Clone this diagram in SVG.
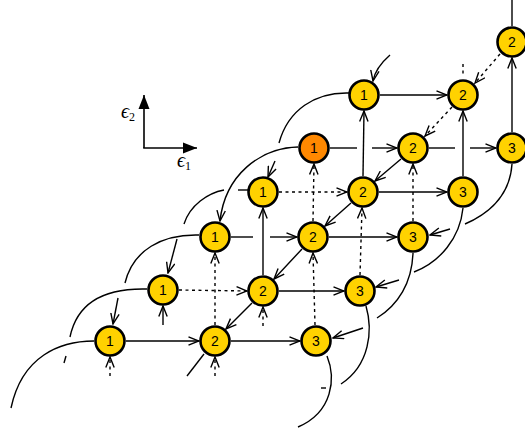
<svg xmlns="http://www.w3.org/2000/svg" width="525" height="428" viewBox="0 0 525 428">
<style>
.edge path,.edge line{fill:none;stroke:#000;stroke-width:1.4}
.edge .d{stroke-dasharray:3 3.5}
.node circle{fill:#FFD200;stroke:#000;stroke-width:2.6}
.node.org circle{fill:#FF8800}
.node text{font-family:"Liberation Sans",Arial,sans-serif;font-size:14px;text-anchor:middle;fill:#000}
.ax{font-family:"Liberation Serif","DejaVu Serif",serif;font-style:italic;font-size:20px;fill:#000}
.ax tspan{font-style:normal;font-size:12px}
</style>
<defs>
<marker id="ah" viewBox="0 0 12 10" refX="11" refY="5" markerWidth="12" markerHeight="10" orient="auto" markerUnits="userSpaceOnUse"><path d="M0.5,0.8 L11,5 L0.5,9.2" fill="none" stroke="#000" stroke-width="1.4"/></marker>
<marker id="tri" viewBox="0 0 14 12" refX="14" refY="6" markerWidth="14" markerHeight="12" orient="auto" markerUnits="userSpaceOnUse"><path d="M0,0.5 L14,6 L0,11.5 Z" fill="#000"/></marker>
</defs>

<g id="axes">
<path d="M144,148 L144,95" fill="none" stroke="#000" stroke-width="1.6" marker-end="url(#tri)"/>
<path d="M143.2,148 L197,148" fill="none" stroke="#000" stroke-width="1.6" marker-end="url(#tri)"/>
<text class="ax" x="121" y="118">ϵ<tspan dy="3">2</tspan></text>
<text class="ax" x="177" y="167">ϵ<tspan dy="3">1</tspan></text>
</g>

<g id="connectors" class="edge">
<!-- horizontal -->
<line x1="126" y1="341" x2="199" y2="341" marker-end="url(#ah)"/>
<line x1="231" y1="341" x2="300" y2="341" marker-end="url(#ah)"/>
<line class="d" x1="179" y1="290" x2="247" y2="291" marker-end="url(#ah)"/>
<line x1="279" y1="291" x2="344" y2="291" marker-end="url(#ah)"/>
<line x1="231" y1="237" x2="253" y2="237"/>
<line x1="270" y1="237" x2="297" y2="237" marker-end="url(#ah)"/>
<line x1="329" y1="237" x2="397" y2="237" marker-end="url(#ah)"/>
<line class="d" x1="279" y1="192" x2="347" y2="192" marker-end="url(#ah)"/>
<line x1="379" y1="192" x2="447" y2="192" marker-end="url(#ah)"/>
<line x1="330" y1="148" x2="357" y2="148"/>
<line x1="372" y1="148" x2="397" y2="148" marker-end="url(#ah)"/>
<line x1="429" y1="148" x2="455" y2="148"/>
<line x1="470" y1="148" x2="496" y2="148" marker-end="url(#ah)"/>
<line x1="380" y1="95" x2="447" y2="95" marker-end="url(#ah)"/>
<!-- vertical -->
<line class="d" x1="110" y1="376" x2="110" y2="357" marker-end="url(#ah)"/>
<line class="d" x1="215" y1="376" x2="215" y2="357" marker-end="url(#ah)"/>
<line x1="163" y1="325" x2="163" y2="306" marker-end="url(#ah)"/>
<line class="d" x1="263" y1="326" x2="263" y2="307" marker-end="url(#ah)"/>
<line class="d" x1="215" y1="325" x2="215" y2="253" marker-end="url(#ah)"/>
<line class="d" x1="315" y1="325" x2="313" y2="253" marker-end="url(#ah)"/>
<line x1="263" y1="275" x2="263" y2="208" marker-end="url(#ah)"/>
<line class="d" x1="360" y1="275" x2="362" y2="208" marker-end="url(#ah)"/>
<line class="d" x1="313" y1="221" x2="314" y2="164" marker-end="url(#ah)"/>
<line class="d" x1="413" y1="221" x2="413" y2="164" marker-end="url(#ah)"/>
<line x1="363" y1="176" x2="364" y2="111" marker-end="url(#ah)"/>
<line x1="463" y1="176" x2="463" y2="111" marker-end="url(#ah)"/>
<line x1="512" y1="132" x2="512" y2="58" marker-end="url(#ah)"/>
<line x1="512" y1="26" x2="512" y2="0"/>
<line class="d" x1="463" y1="64" x2="463" y2="77"/>
<!-- diagonal -->
<line class="d" x1="500" y1="54" x2="475" y2="83" marker-end="url(#ah)"/>
<line class="d" x1="452" y1="107" x2="425" y2="136" marker-end="url(#ah)"/>
<line x1="401" y1="159" x2="375" y2="181" marker-end="url(#ah)"/>
<line x1="351" y1="203" x2="325" y2="226" marker-end="url(#ah)"/>
<line x1="302" y1="249" x2="274" y2="279" marker-end="url(#ah)"/>
<line x1="252" y1="303" x2="226" y2="329" marker-end="url(#ah)"/>
<line x1="204" y1="354" x2="187" y2="376"/>
<!-- left curves -->
<path d="M94,341 C60,341 22,356 11,408"/>
<path d="M147,289 C110,288 78,298 70,337"/>
<path d="M66,356 L64,363"/>
<path d="M199,235 C162,234 133,250 125,283"/>
<path d="M118,298 L113,324" marker-end="url(#ah)"/>
<path d="M248,190 L238,190"/>
<path d="M224,190 C208,193 190,205 184,224"/>
<path d="M177,239 L168,273" marker-end="url(#ah)"/>
<path d="M298,147 C260,148 225,175 220,221" marker-end="url(#ah)"/>
<path d="M349,93 C315,92 288,110 279,143"/>
<path d="M275,161 L268,177" marker-end="url(#ah)"/>
<path d="M390,55 C382,62 375,70 373,81" marker-end="url(#ah)"/>
<!-- right curves -->
<path d="M512,164 C510,195 490,213 465,224"/>
<path d="M450,229 L430,235" marker-end="url(#ah)"/>
<path d="M463,208 C460,238 440,262 414,272"/>
<path d="M399,280 L376,287" marker-end="url(#ah)"/>
<path d="M413,253 C412,283 398,305 377,318"/>
<path d="M363,328 L333,338" marker-end="url(#ah)"/>
<path d="M366,306 C373,330 370,365 341,384"/>
<path d="M321,388 L326,388"/>
<path d="M327,356 C336,378 333,412 298,427"/>
</g>

<g id="nA1" class="node"><circle cx="110" cy="341" r="14.5"/><text x="110" y="346">1</text></g>
<g id="nA2" class="node"><circle cx="215" cy="341" r="14.5"/><text x="215" y="346">2</text></g>
<g id="nA3" class="node"><circle cx="316" cy="341" r="14.5"/><text x="316" y="346">3</text></g>
<g id="nB1" class="node"><circle cx="163" cy="290" r="14.5"/><text x="163" y="295">1</text></g>
<g id="nB2" class="node"><circle cx="263" cy="291" r="14.5"/><text x="263" y="296">2</text></g>
<g id="nB3" class="node"><circle cx="360" cy="291" r="14.5"/><text x="360" y="296">3</text></g>
<g id="nC1" class="node"><circle cx="215" cy="237" r="14.5"/><text x="215" y="242">1</text></g>
<g id="nC2" class="node"><circle cx="313" cy="237" r="14.5"/><text x="313" y="242">2</text></g>
<g id="nC3" class="node"><circle cx="413" cy="237" r="14.5"/><text x="413" y="242">3</text></g>
<g id="nD1" class="node"><circle cx="263" cy="192" r="14.5"/><text x="263" y="197">1</text></g>
<g id="nD2" class="node"><circle cx="363" cy="192" r="14.5"/><text x="363" y="197">2</text></g>
<g id="nD3" class="node"><circle cx="463" cy="192" r="14.5"/><text x="463" y="197">3</text></g>
<g id="nE1" class="node org"><circle cx="314" cy="148" r="14.5"/><text x="314" y="153">1</text></g>
<g id="nE2" class="node"><circle cx="413" cy="148" r="14.5"/><text x="413" y="153">2</text></g>
<g id="nE3" class="node"><circle cx="512" cy="148" r="14.5"/><text x="512" y="153">3</text></g>
<g id="nF1" class="node"><circle cx="364" cy="95" r="14.5"/><text x="364" y="100">1</text></g>
<g id="nF2" class="node"><circle cx="463" cy="95" r="14.5"/><text x="463" y="100">2</text></g>
<g id="nG2" class="node"><circle cx="512" cy="42" r="14.5"/><text x="512" y="47">2</text></g>
</svg>
